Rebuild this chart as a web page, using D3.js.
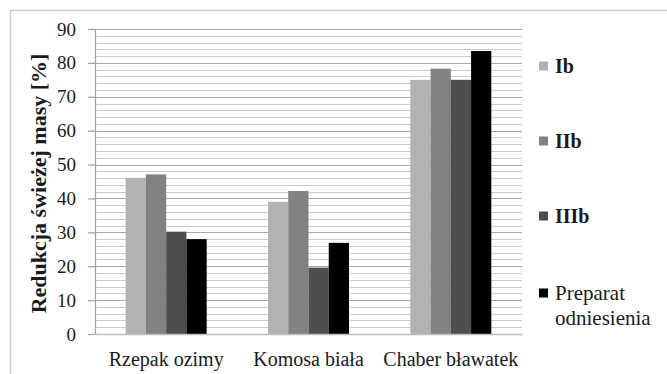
<!DOCTYPE html>
<html>
<head>
<meta charset="utf-8">
<script src="https://cdn.jsdelivr.net/npm/d3@7"></script>
<style>
  html, body { margin: 0; padding: 0; background: #fff; }
  svg { display: block; }
</style>
</head>
<body>
<svg id="chart" width="667" height="374"></svg>
<script>
// Reduction of fresh mass [%] per weed species and treatment
const categories = ["Rzepak ozimy", "Komosa biała", "Chaber bławatek"];
const seriesNames = ["Ib", "IIb", "IIIb", "Preparat odniesienia"];
const seriesIb = [46.1, 39.0, 75.0];
const seriesIIb = [47.1, 42.2, 78.3];
const seriesIIIb = [30.2, 19.6, 75.0];
const seriesPreparat = [28.0, 26.9, 83.5];
const seriesColors = ["#b2b2b2", "#828282", "#4e4e4e", "#000000"];
const yTicks = [0, 10, 20, 30, 40, 50, 60, 70, 80, 90];
const yTitle = "Redukcja świeżej masy [%]";

const serif = "'Liberation Serif', 'Times New Roman', serif";
const ink = "#1a1a1a";

const seriesValues = [seriesIb, seriesIIb, seriesIIIb, seriesPreparat];
const rows = categories.map((c, i) => ({
  category: c,
  values: seriesNames.map((s, j) => ({ series: s, value: seriesValues[j][i] }))
}));

const svg = d3.select("#chart");
const plot = { left: 95, right: 522, top: 29, bottom: 334 };

// Outer chart frame
svg.append("rect")
  .attr("x", 10.5).attr("y", 10.5)
  .attr("width", 720).attr("height", 420)
  .attr("fill", "none").attr("stroke", "#cfcfcf").attr("stroke-width", 1.5);

const y = d3.scaleLinear().domain([0, 90]).range([plot.bottom, plot.top]);
const x0 = d3.scaleBand().domain(categories).range([plot.left, plot.right])
  .paddingInner(0.431).paddingOuter(0.2155);
const x1 = d3.scaleBand().domain(seriesNames).range([0, x0.bandwidth()]);
const color = d3.scaleOrdinal().domain(seriesNames).range(seriesColors);

// Minor gridlines every 2 units
const minor = d3.range(2, 90, 2).filter(v => v % 10 !== 0);
svg.append("g").selectAll("line").data(minor).join("line")
  .attr("x1", plot.left).attr("x2", plot.right)
  .attr("y1", d => Math.round(y(d)) + 0.5).attr("y2", d => Math.round(y(d)) + 0.5)
  .attr("stroke", "#cbcbcb").attr("stroke-width", 1);

// Major gridlines
svg.append("g").selectAll("line").data(yTicks.filter(v => v > 0)).join("line")
  .attr("x1", plot.left).attr("x2", plot.right)
  .attr("y1", d => Math.round(y(d)) + 0.5).attr("y2", d => Math.round(y(d)) + 0.5)
  .attr("stroke", "#a8a8a8").attr("stroke-width", 1.2);

// Bars
svg.append("g").selectAll("g").data(rows).join("g")
  .attr("transform", d => `translate(${x0(d.category)},0)`)
  .selectAll("rect").data(d => d.values).join("rect")
  .attr("x", d => x1(d.series))
  .attr("width", x1.bandwidth())
  .attr("y", d => y(d.value))
  .attr("height", d => y(0) - y(d.value))
  .attr("fill", d => color(d.series));

// Y axis
const yAxis = svg.append("g")
  .attr("transform", `translate(${plot.left},0)`)
  .call(d3.axisLeft(y).tickValues(yTicks).tickSize(7).tickPadding(12).tickSizeOuter(0))
  .attr("font-family", serif).attr("font-size", 19);
yAxis.select(".domain").attr("stroke", "#a0a0a0").attr("stroke-width", 1.2);
yAxis.selectAll(".tick line").attr("stroke", "#a0a0a0").attr("stroke-width", 1.2);
yAxis.selectAll(".tick text").attr("fill", ink);

// X axis baseline and category labels
const xAxis = svg.append("g")
  .attr("transform", `translate(0,${plot.bottom})`)
  .call(d3.axisBottom(x0).tickSize(0).tickPadding(18).tickSizeOuter(0))
  .attr("font-family", serif).attr("font-size", 20);
xAxis.select(".domain").attr("stroke", "#bdbdbd").attr("stroke-width", 1.5);
xAxis.selectAll(".tick text").attr("fill", ink);

// Y axis title
svg.append("text")
  .attr("transform", `translate(46,${(plot.top + plot.bottom) / 2 + 2}) rotate(-90)`)
  .attr("text-anchor", "middle")
  .attr("font-family", serif).attr("fill", ink)
  .attr("font-size", 22).attr("font-weight", "bold")
  .text(yTitle);

// Legend
const legendY = [66, 141, 216, 293];
const legend = svg.append("g").attr("font-family", serif).attr("fill", ink)
  .selectAll("g").data(seriesNames).join("g")
  .attr("transform", (d, i) => `translate(539,${legendY[i]})`);
legend.append("rect")
  .attr("x", 0).attr("y", -4.5).attr("width", 9).attr("height", 9)
  .attr("fill", d => color(d));
legend.each(function (d, i) {
  const g = d3.select(this);
  if (i < 3) {
    g.append("text").attr("x", 16).attr("y", 6.5)
      .attr("font-size", 20).attr("font-weight", "bold").text(d);
  } else {
    const words = d.split(" ");
    g.append("text").attr("x", 16).attr("y", 7).attr("font-size", 21).text(words[0]);
    g.append("text").attr("x", 16).attr("y", 32).attr("font-size", 21).text(words[1]);
  }
});
</script>
</body>
</html>
